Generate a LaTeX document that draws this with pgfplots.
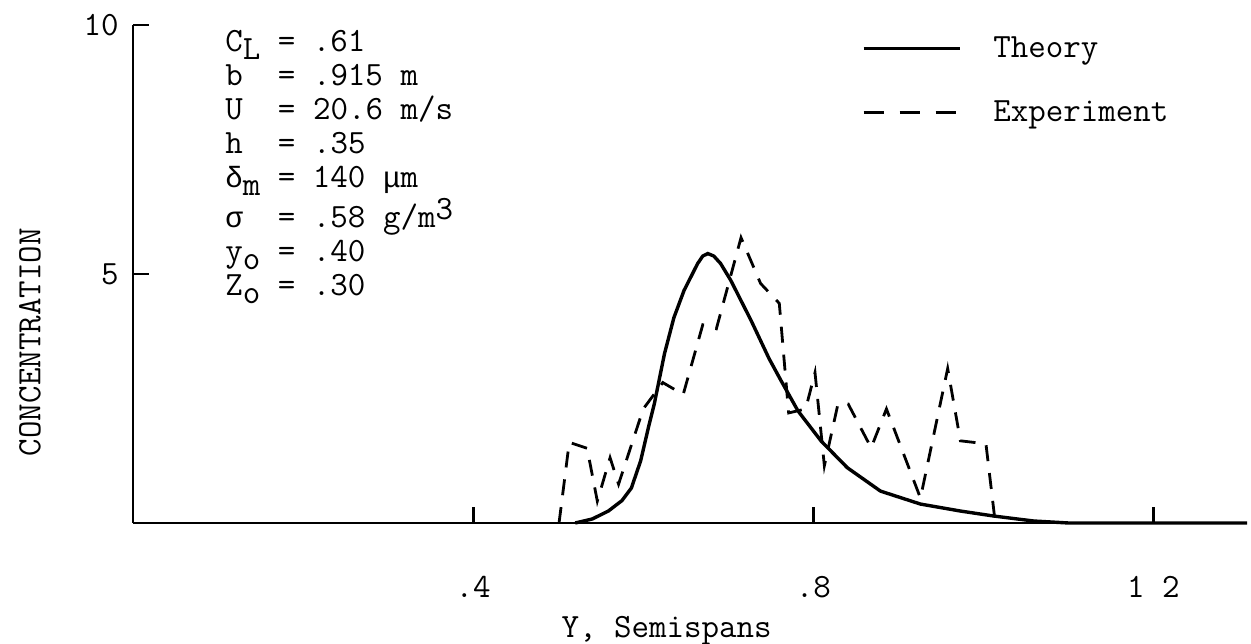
\documentclass[border=0pt]{standalone}
\usepackage{fontspec}
\newfontfamily\gk[Scale=0.86]{Liberation Mono}
\usepackage{pgfplots}
\pgfplotsset{compat=1.18}
\renewcommand{\familydefault}{\ttdefault}
\newcommand\lo[1]{\raisebox{-0.55ex}{#1}}
\newcommand\hi[1]{\raisebox{0.6ex}{#1}}
\newcommand\tw{\ttfamily\fontsize{17}{17}\selectfont}
\begin{document}
\begin{tikzpicture}
\begin{axis}[
  width=557pt, height=249pt, scale only axis,
  xmin=0, xmax=1.31, ymin=0, ymax=10,
  axis x line=bottom, axis y line=left,
  axis line style={-, line width=1.4pt},
  xtick={0.4,0.8,1.2}, xticklabels={.4,.8,1 2},
  ytick={5,10}, yticklabels={5,10},
  tick style={line width=1.4pt, black},
  major tick length=8pt, tick align=inside,
  /pgf/number format/assume math mode=true,
  font=\tw,
  xticklabel style={anchor=center, yshift=-32pt},
  yticklabel style={anchor=east, inner sep=0pt, xshift=-7pt},
  xlabel={Y, Semispans},
  xlabel style={at={(rel axis cs:0.479,-0.216)}, anchor=center},
  ylabel={CONCENTRATION},
  ylabel style={at={(rel axis cs:-0.0925,0.363)}, anchor=center, rotate=0},
  clip=false,
  legend style={draw=none, fill=none, at={(rel axis cs:0.654,0.985)}, anchor=north west,
    inner sep=0pt, row sep=16pt, font=\tw,
    /tikz/every odd column/.append style={column sep=14pt}},
  legend cell align=left,
  legend image code/.code={\draw[#1] (0pt,0pt) -- (48pt,0pt);},
]
\addplot[black, line width=1.7pt] coordinates {
(0.52,0) (0.54,0.08) (0.559,0.24) (0.575,0.45) (0.586,0.70) (0.597,1.25)
(0.606,1.91) (0.613,2.39) (0.625,3.40) (0.636,4.12) (0.648,4.67) (0.664,5.21)
(0.670,5.36) (0.676,5.41) (0.683,5.36) (0.691,5.21) (0.703,4.87) (0.727,4.06)
(0.748,3.30) (0.762,2.86) (0.782,2.25) (0.809,1.65) (0.817,1.51) (0.840,1.11)
(0.879,0.64) (0.926,0.38) (0.973,0.24) (1.012,0.14) (1.059,0.04) (1.10,0.0) (1.31,0)
};
\addlegendentry{Theory}
\addplot[black, line width=1.4pt, dash pattern=on 8pt off 6pt,
  legend image code/.code={\draw[black, line width=1.4pt, dash pattern=on 10pt off 8pt] (0pt,0pt) -- (48pt,0pt);}] coordinates {
(0.501,0) (0.513,1.62) (0.534,1.50) (0.546,0.44) (0.561,1.31) (0.571,0.78)
(0.600,2.29) (0.623,2.82) (0.647,2.58) (0.670,3.98) (0.686,3.90) (0.715,5.73)
(0.738,4.81) (0.760,4.41) (0.771,2.21) (0.791,2.29) (0.802,3.02) (0.813,1.15)
(0.829,2.39) (0.841,2.39) (0.868,1.51) (0.886,2.29) (0.926,0.50) (0.958,3.10)
(0.973,1.65) (1.003,1.59) (1.014,0)
};
\addlegendentry{Experiment}
\node[anchor=north west, inner sep=0pt, align=left, font=\tw]
  at (rel axis cs:0.0826,0.995) {%
  \begin{tabular}{@{}l@{ = }l@{}}
  C\lo{L} & .61\\
  b & .915 m\\
  U & 20.6 m/s\\
  h & .35\\
  {\gk δ}\lo{m} & 140 {\gk μ}m\\
  {\gk σ} & .58 g/m\hi{3}\\
  y\lo{o} & .40\\
  Z\lo{o} & .30
  \end{tabular}};
\coordinate (BL) at (rel axis cs:-0.1194,-0.243);
\coordinate (TR) at (rel axis cs:1.0036,1.0502);
\end{axis}
\pgfresetboundingbox
\useasboundingbox (BL) rectangle (TR);
\end{tikzpicture}
\end{document}
